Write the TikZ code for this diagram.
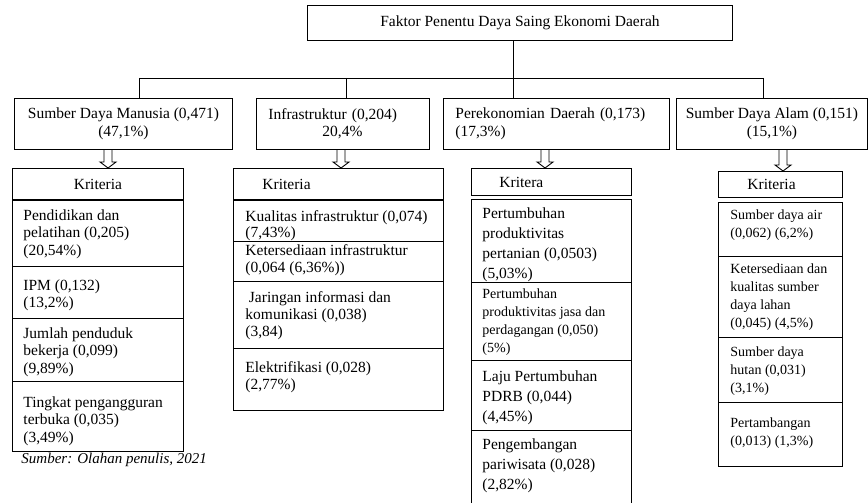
\documentclass[tikz,border=0pt]{standalone}
\usepackage{fontspec}
\setmainfont{Liberation Serif}
\usetikzlibrary{calc}
\newcommand{\setfs}[2]{\fontsize{#1}{#2}\selectfont}

\tikzset{
  box/.style={draw, anchor=north west, inner sep=0pt, font=\setfs{15.5}{17.5}},
  txt/.style={anchor=base west, align=left, inner sep=0pt, font=\setfs{15.5}{17.5}},
  small/.style={font=\setfs{14}{18}},
  hollow/.style={to path={let \p1=(\tikztostart), \p2=(\tikztotarget) in
    (\x1-4pt,\y1) -- (\x1-4pt,\y2+6pt) -- (\x1-8pt,\y2+6pt) -- (\x1,\y2)
    -- (\x1+8pt,\y2+6pt) -- (\x1+4pt,\y2+6pt) -- (\x1+4pt,\y1)}},
}

\begin{document}
\begin{tikzpicture}[x=1pt, y=-1pt, line width=0.9pt]
  \useasboundingbox (0,0) rectangle (868,503);

  % goal and the four factors
  \node[box, minimum width=425, minimum height=35] (top) at (307,5) {Faktor Penentu Daya Saing Ekonomi Daerah};
  \node[box, minimum width=218, minimum height=51, align=center] (h1) at (14,98) {Sumber Daya Manusia (0,471)\\(47,1\%)};
  \node[box, minimum width=173, minimum height=51, inner xsep=12pt, text width=149pt, align=left] (h2) at (256,98) {Infrastruktur (0,204)\\\hspace*{54pt}20,4\%};
  \node[box, minimum width=226, minimum height=51, inner xsep=12pt, text width=202pt, align=left] (h3) at (443,98) {Perekonomian Daerah (0,173)\\(17,3\%)};
  \node[box, minimum width=191, minimum height=51, align=center] (h4) at (676,98) {Sumber Daya Alam (0,151)\\(15,1\%)};

  \coordinate (d1) at (139,78);
  \coordinate (d2) at (346,78);
  \coordinate (d3) at (513,78);
  \coordinate (d4) at (763,78);
  \draw (d1) -- (d4);
  \draw (top.south -| d3) -- (d3);
  \foreach \i in {1,...,4}
    \draw (d\i) -- (d\i |- h\i.north);

  % kriteria headers
  \node[box, minimum width=171, minimum height=31, align=center] (k1) at (12,168) {Kriteria};
  \node[box, minimum width=210, minimum height=31, inner xsep=29pt, text width=152pt, align=left] (k2) at (233,168) {Kriteria};
  \node[box, minimum width=160, minimum height=27, inner xsep=28pt, text width=104pt, align=left] (k3) at (471,168) {Kritera};
  \node[box, minimum width=124, minimum height=26, inner xsep=29pt, text width=66pt, align=left] (k4) at (718,171) {Kriteria};

  \coordinate (a1) at (108,0);
  \coordinate (a2) at (341,0);
  \coordinate (a3) at (545,0);
  \coordinate (a4) at (783,0);
  \foreach \i in {1,...,4}
    \draw[hollow] (a\i |- h\i.south) to (a\i |- k\i.north);

  % sumber daya manusia (nodes sit on their last baseline)
  \draw (12,200) rectangle (183,451);
  \foreach \y in {266,318,381} \draw (12,\y) -- (183,\y);
  \node[txt] (t11) at (23,255) {Pendidikan dan\\pelatihan (0,205)\\(20,54\%)};
  \node[txt] (t12) at (23,307.5) {IPM (0,132)\\(13,2\%)};
  \node[txt] (t13) at (23,373) {Jumlah penduduk\\bekerja (0,099)\\(9,89\%)};
  \node[txt] (t14) at (23,442) {Tingkat pengangguran\\terbuka (0,035)\\(3,49\%)};
  \node[txt, font=\setfs{15}{17}\itshape] (src) at (21,463) {Sumber: Olahan penulis, 2021};

  % infrastruktur
  \draw (233,200) rectangle (443,410);
  \foreach \y in {241,281,348} \draw (233,\y) -- (443,\y);
  \node[txt, font=\setfs{15.5}{16.5}] (t21) at (245,237.5) {Kualitas infrastruktur (0,074)\\(7,43\%)};
  \node[txt, font=\setfs{15.5}{17}] (t22) at (245,272) {Ketersediaan infrastruktur\\(0,064 (6,36\%))};
  \node[txt, font=\setfs{15.5}{17}] (t23) at (245,336) {\hspace*{3.5pt}Jaringan informasi dan\\komunikasi (0,038)\\(3,84)};
  \node[txt] (t24) at (245,389.5) {Elektrifikasi (0,028)\\(2,77\%)};

  % perekonomian daerah
  \draw (471,503) |- (631,199) -- (631,503);
  \foreach \y in {282,360,430} \draw (471,\y) -- (631,\y);
  \node[txt, font=\setfs{15.5}{20}] (t31) at (482,278.5) {Pertumbuhan\\produktivitas\\pertanian (0,0503)\\(5,03\%)};
  \node[txt, small] (t32) at (482,352) {Pertumbuhan\\produktivitas jasa dan\\perdagangan (0,050)\\(5\%)};
  \node[txt, font=\setfs{15.5}{20}] (t33) at (482,421) {Laju Pertumbuhan\\PDRB (0,044)\\(4,45\%)};
  \node[txt, font=\setfs{15.5}{20}] (t34) at (482,489) {Pengembangan\\pariwisata (0,028)\\(2,82\%)};

  % sumber daya alam
  \draw (718,202) rectangle (842,466);
  \foreach \y in {256,337,402} \draw (718,\y) -- (842,\y);
  \node[txt, small] (t41) at (730,237) {Sumber daya air\\(0,062) (6,2\%)};
  \node[txt, small] (t42) at (730,327) {Ketersediaan dan\\kualitas sumber\\daya lahan\\(0,045) (4,5\%)};
  \node[txt, small] (t43) at (730,392) {Sumber daya\\hutan (0,031)\\(3,1\%)};
  \node[txt, small] (t44) at (730,445) {Pertambangan\\(0,013) (1,3\%)};
\end{tikzpicture}
\end{document}
